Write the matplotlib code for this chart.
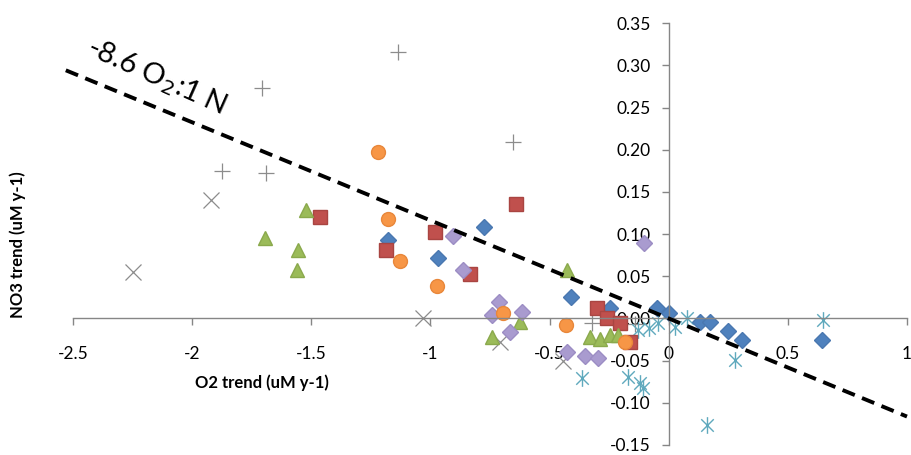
import numpy as np
import matplotlib
matplotlib.use("Agg")
import matplotlib.pyplot as plt
from matplotlib.path import Path
from matplotlib.ticker import FixedLocator, FuncFormatter

plt.rcParams['font.family'] = ['Lato', 'DejaVu Sans']
plt.rcParams['axes.unicode_minus'] = False

# O2 trend vs NO3 trend, one group per region (uM y-1)
blue_x = [-1.177, -0.969, -0.775, -0.411, -0.246, -0.050, 0.000, 0.131, 0.173, 0.250, 0.306, 0.642]
blue_y = [0.093, 0.072, 0.109, 0.025, 0.012, 0.012, 0.006, -0.004, -0.004, -0.015, -0.026, -0.026]

red_x = [-1.463, -1.185, -0.981, -0.642, -0.834, -0.302, -0.260, -0.204, -0.162]
red_y = [0.120, 0.081, 0.103, 0.136, 0.053, 0.012, 0.000, -0.005, -0.028]

green_x = [-1.520, -1.694, -1.554, -1.561, -0.428, -0.624, -0.743, -0.330, -0.288, -0.246, -0.212]
green_y = [0.128, 0.095, 0.081, 0.057, 0.057, -0.004, -0.022, -0.022, -0.024, -0.020, -0.020]

purple_x = [-0.906, -0.865, -0.104, -0.711, -0.743, -0.617, -0.666, -0.428, -0.351, -0.295]
purple_y = [0.098, 0.058, 0.090, 0.020, 0.004, 0.008, -0.016, -0.040, -0.045, -0.047]

cyan_x = [0.160, 0.279, 0.075, 0.648, -0.363, -0.170, -0.120, -0.107, -0.084, -0.046, 0.025, -0.130]
cyan_y = [-0.126, -0.049, 0.000, -0.002, -0.071, -0.069, -0.077, -0.083, -0.011, -0.005, -0.010, -0.014]

orange_x = [-1.219, -1.177, -1.126, -0.972, -0.694, -0.432, -0.183]
orange_y = [0.197, 0.118, 0.068, 0.038, 0.006, -0.008, -0.028]

plus_x = [-1.134, -1.706, -1.873, -1.690, -0.653, -0.323, -0.140]
plus_y = [0.316, 0.273, 0.175, 0.173, 0.209, -0.005, -0.006]

cross_x = [-1.920, -2.248, -1.031, -0.708, -0.443]
cross_y = [0.140, 0.055, 0.000, -0.028, -0.051]

# Redfield-type reference line
ratio = 8.6
line_x = np.array([-2.53, 1.0])

xticks = [-2.5, -2, -1.5, -1, -0.5, 0, 0.5, 1]
xtick_labels = ['-2.5', '-2', '-1.5', '-1', '-0.5', '0', '0.5', '1']
yticks = [-0.15, -0.10, -0.05, 0.00, 0.05, 0.10, 0.15, 0.20, 0.25, 0.30, 0.35]

# excel-style asterisk: vertical bar plus an x
star = Path([(0, -1), (0, 1), (-0.75, -0.75), (0.75, 0.75), (-0.75, 0.75), (0.75, -0.75)],
            [Path.MOVETO, Path.LINETO, Path.MOVETO, Path.LINETO, Path.MOVETO, Path.LINETO])

fig = plt.figure(figsize=(9.12, 4.55), dpi=100)
ax = fig.add_axes([0.080, 0.022, 0.9145, 0.927])

ax.plot(plus_x, plus_y, ls='none', marker='+', ms=11, mew=0.9, color='#8c8c8c')
ax.plot(cross_x, cross_y, ls='none', marker='x', ms=12, mew=0.9, color='#8c8c8c')
ax.plot(cyan_x, cyan_y, ls='none', marker=star, ms=12, mew=1.0, color='#5fa9bd')
ax.plot(blue_x, blue_y, ls='none', marker='D', ms=8.3, color='#4F81BD', mec='#4a78b0')
ax.plot(red_x, red_y, ls='none', marker='s', ms=10.5, color='#C0504D', mec='#a94542')
ax.plot(green_x, green_y, ls='none', marker='^', ms=10, color='#9BBB59', mec='#8aa94c')
ax.plot(purple_x, purple_y, ls='none', marker='D', ms=8.3, color='#A99BCF', mec='#9c8dc4')
ax.plot(orange_x, orange_y, ls='none', marker='o', ms=10, color='#F79646', mec='#e8873a')

ax.plot(line_x, -line_x / ratio, color='black', lw=2.8, dashes=(3.4, 2.0), zorder=5, clip_on=False)
ax.text(-2.15, 0.287, '-8.6 O$_2$:1 N', fontsize=21, rotation=-24, ha='center', va='center')

ax.set_xlim(-2.5, 1.0)
ax.set_ylim(-0.15, 0.35)

for side in ['top', 'right']:
    ax.spines[side].set_visible(False)
ax.spines['left'].set_position(('data', 0))
ax.spines['bottom'].set_position(('data', 0))
for side in ['left', 'bottom']:
    ax.spines[side].set_color('#868686')
    ax.spines[side].set_linewidth(1.0)

ax.xaxis.set_major_locator(FixedLocator(xticks))
ax.xaxis.set_major_formatter(FuncFormatter(lambda v, p: xtick_labels[xticks.index(v)] if v in xticks else ''))
ax.yaxis.set_major_locator(FixedLocator(yticks))
ax.yaxis.set_major_formatter(FuncFormatter(lambda v, p: '%.2f' % v))
ax.tick_params(axis='x', direction='out', length=5, width=1, color='#868686', pad=15, labelsize=12.5)
ax.tick_params(axis='y', direction='out', length=5, width=1, color='#868686', pad=8, labelsize=12.5)
ax.patch.set_visible(False)

fig.text(262 / 912, 1 - 383 / 455, 'O2 trend (uM y-1)', fontsize=12, fontweight='bold',
         ha='center', va='center')
fig.text(18 / 912, 1 - 245 / 455, 'NO3 trend (uM y-1)', fontsize=12, fontweight='bold',
         rotation=90, ha='center', va='center')

fig.savefig('out.png', dpi=100)
